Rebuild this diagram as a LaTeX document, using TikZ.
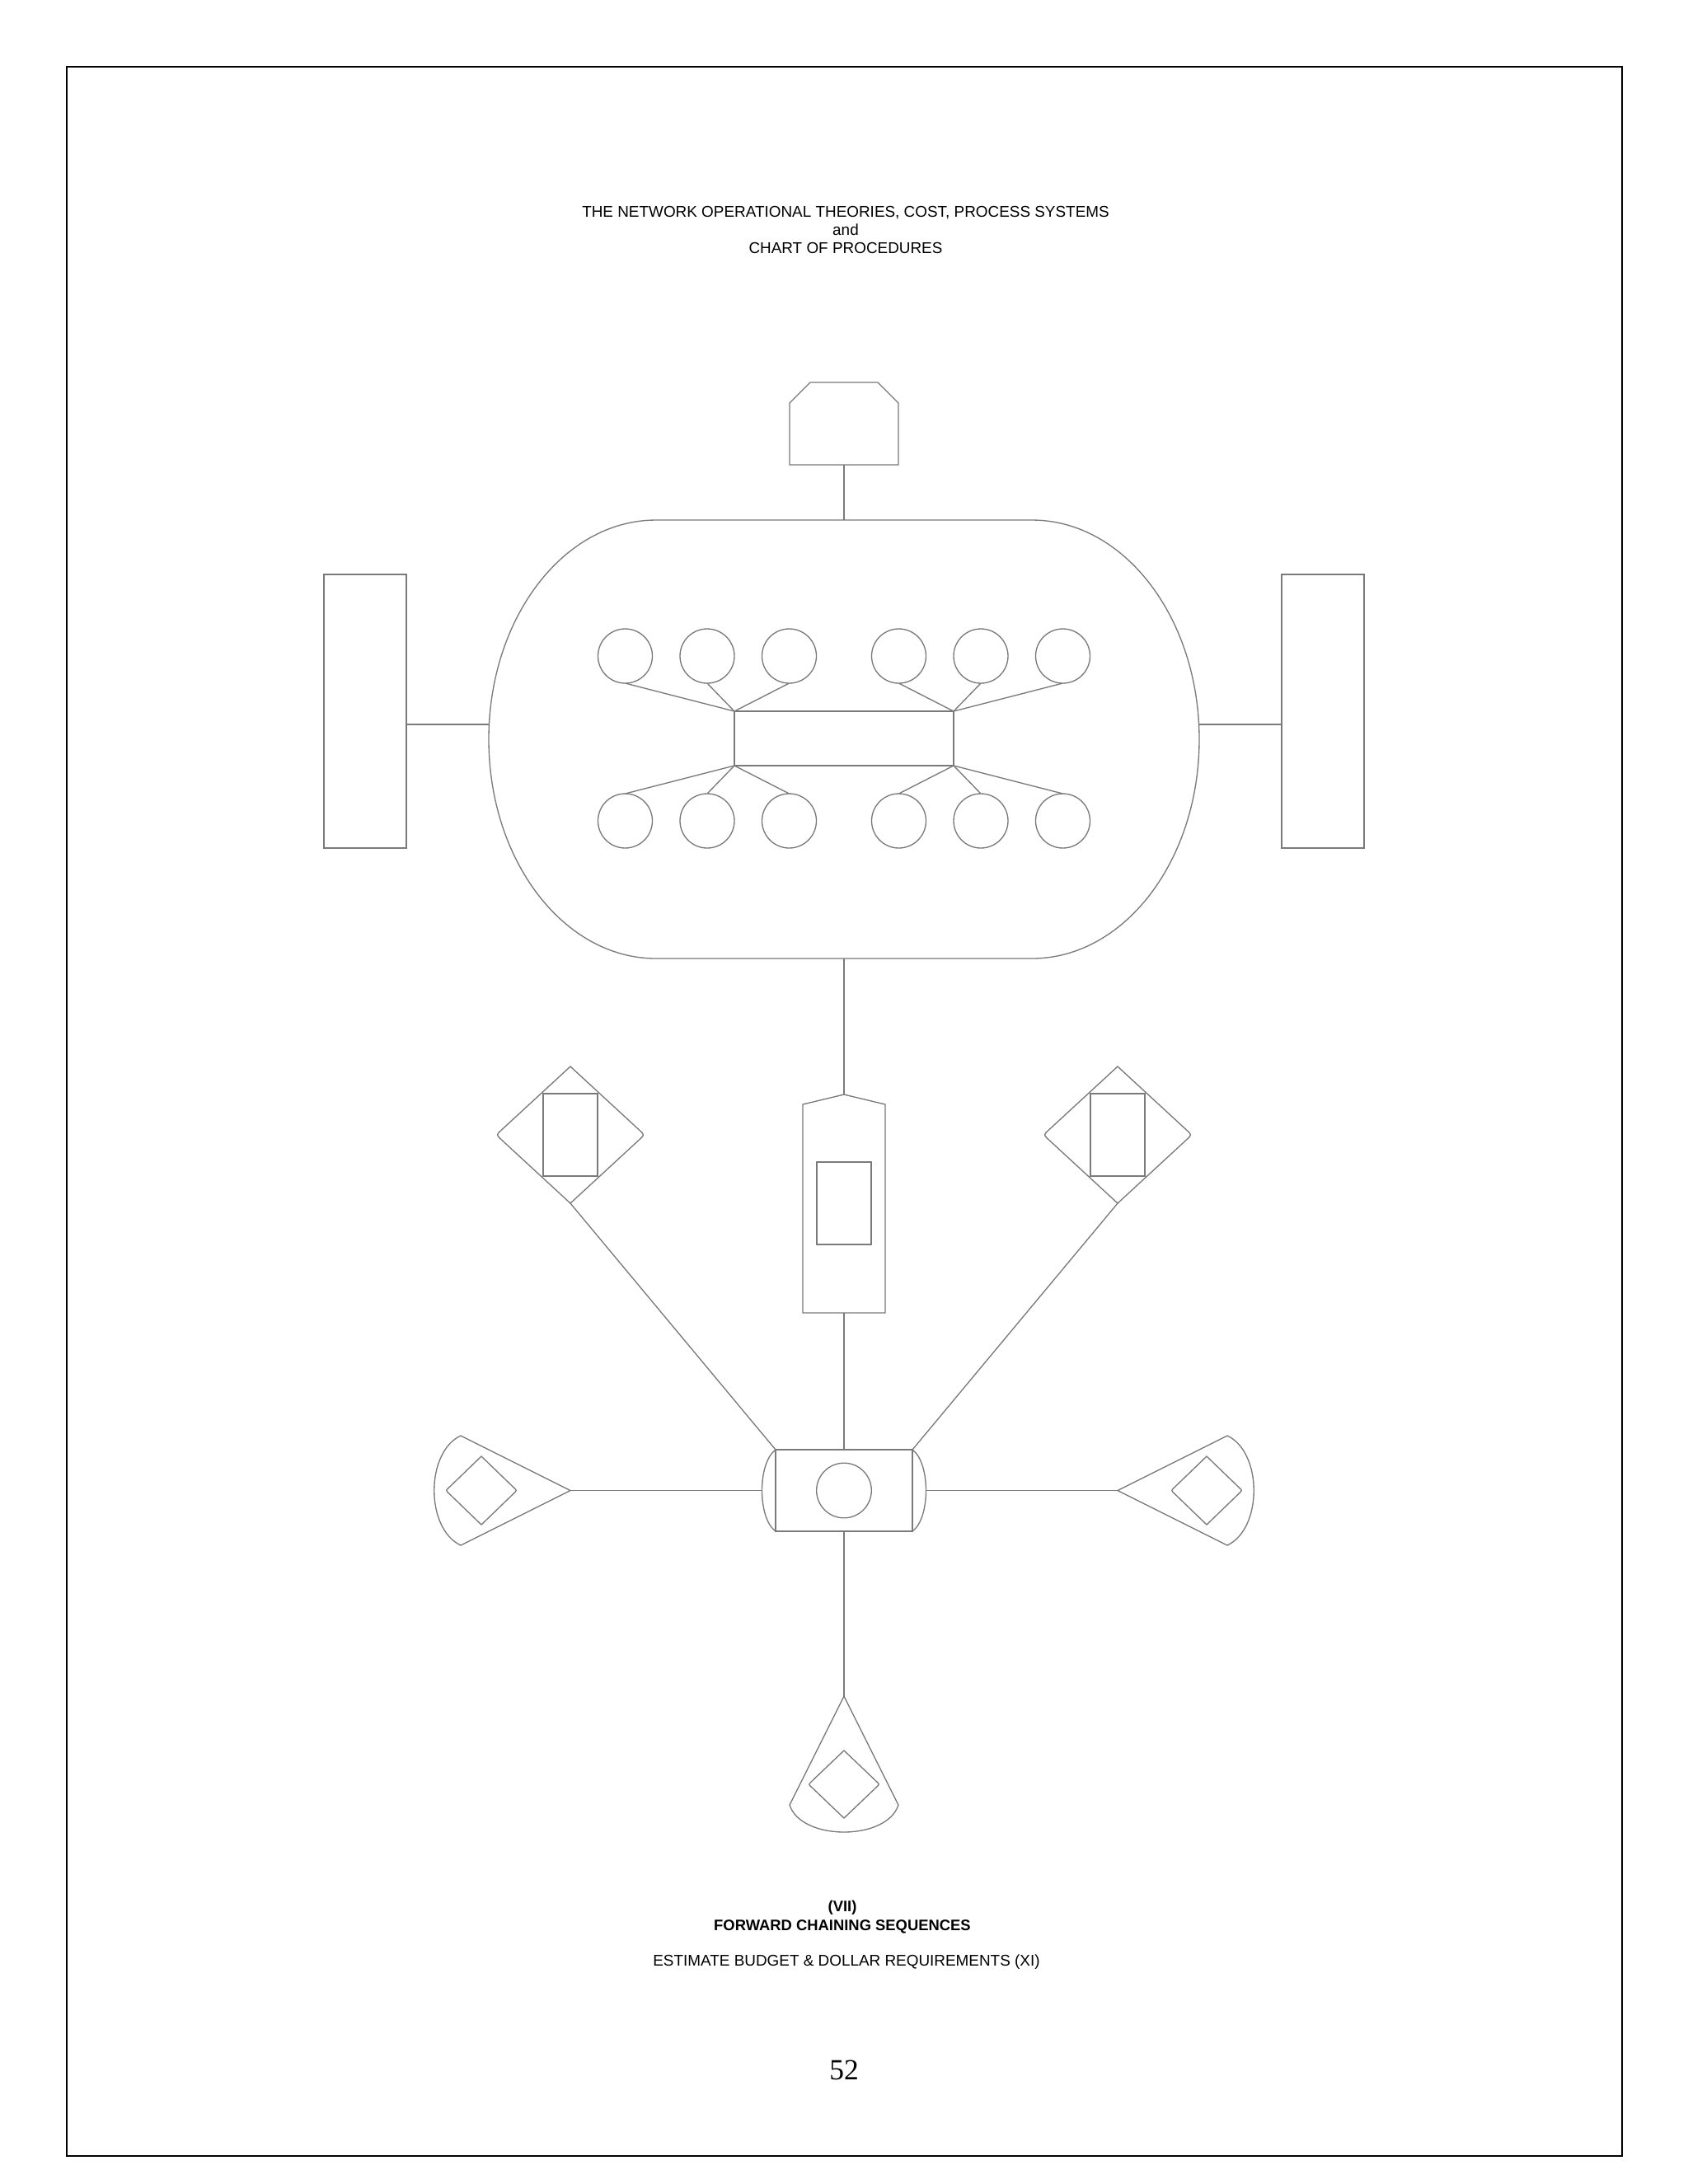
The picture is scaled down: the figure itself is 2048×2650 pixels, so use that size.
\documentclass[tikz,border=0pt]{standalone}
\usepackage{fontspec}
\newfontfamily\arialf{Liberation Sans}
\newfontfamily\serf{Liberation Serif}
\definecolor{linegray}{RGB}{122,122,122}
\newcommand\rdiam[5]{%
  \pgfmathsetmacro\rdA{#1+#3*(1-#5)}%
  \pgfmathsetmacro\rdB{#1-#3*(1-#5)}%
  \pgfmathsetmacro\rdC{#2-#4*#5}%
  \pgfmathsetmacro\rdD{#2+#4*#5}%
  \pgfmathsetmacro\rdE{#1+#3}%
  \pgfmathsetmacro\rdF{#1-#3}%
  \pgfmathsetmacro\rdG{#2-#4}%
  \pgfmathsetmacro\rdH{#2+#4}%
  \draw[ln] (#1,\rdG) -- (\rdA,\rdC) .. controls (\rdE,#2) .. (\rdA,\rdD) -- (#1,\rdH) -- (\rdB,\rdD) .. controls (\rdF,#2) .. (\rdB,\rdC) -- cycle;%
}
\begin{document}
\begin{tikzpicture}[x=0.298828pt,y=-0.298828pt,
  ln/.style={draw=linegray, line width=0.4pt},
  circ/.style={ln, circle, minimum size=19.72pt, inner sep=0pt, outer sep=0pt},
  box/.style={ln, rectangle, inner sep=0pt, outer sep=0pt},
  sidebox/.style={box, minimum width=29.88pt, minimum height=99.21pt},
  innerbox/.style={box, minimum width=19.72pt, minimum height=29.88pt},
  txt/.style={font=\arialf\fontsize{5.65pt}{6.57pt}\selectfont, align=center, inner sep=0pt},
  btxt/.style={font=\arialf\bfseries\fontsize{5.5pt}{7.0pt}\selectfont, align=center, inner sep=0pt}]
\useasboundingbox (0,0) rectangle (2048,2650);
\draw[line width=0.65pt, black] (81,81) rectangle (1968,2616);

% title
\node[txt] (title) at (1026,279) {THE NETWORK OPERATIONAL THEORIES, COST, PROCESS SYSTEMS\\and\\CHART OF PROCEDURES};

% top octagon
\draw[ln] (958,564) -- (958,489) -- (983,464) -- (1065,464) -- (1090,489) -- (1090,564) -- cycle;
\coordinate (octB) at (1024,564);

% capsule
\draw[ln] (796,631) arc[start angle=270, end angle=90, x radius=203, y radius=266] -- (1252,1163) arc[start angle=90, end angle=-90, x radius=203, y radius=266] -- cycle;
\coordinate (capT) at (1024,631);
\coordinate (capB) at (1024,1163);
\coordinate (capL) at (593,879);
\coordinate (capR) at (1455,879);
\draw[ln] (octB) -- (capT);

% side boxes
\node[sidebox] (L) at (443,863) {};
\node[sidebox] (R) at (1605,863) {};
\draw[ln] (capL -| L.east) -- (capL);
\draw[ln] (capR) -- (capR -| R.west);

% circles and centre box
\foreach \i/\x in {1/758.5,2/858,3/957.5,4/1090.5,5/1190,6/1289.5} {
  \node[circ] (t\i) at (\x,796) {};
  \node[circ] (b\i) at (\x,996) {};
}
\node[box, minimum width=79.49pt, minimum height=19.72pt] (mid) at (1024,896) {};
\foreach \i in {1,2,3} {
  \draw[ln] (mid.north west) -- (t\i.south);
  \draw[ln] (mid.south west) -- (b\i.north);
}
\foreach \i in {4,5,6} {
  \draw[ln] (mid.north east) -- (t\i.south);
  \draw[ln] (mid.south east) -- (b\i.north);
}

% tall shape
\draw[ln] (1024,1328) -- (1074,1340) -- (1074,1593) -- (974,1593) -- (974,1340) -- cycle;
\coordinate (tallT) at (1024,1328);
\coordinate (tallB) at (1024,1593);
\node[innerbox] (tallIn) at (1024,1460) {};
\draw[ln] (capB) -- (tallT);

% diamonds with boxes
\rdiam{692}{1377}{90}{83}{0.07}
\rdiam{1356}{1377}{90}{83}{0.07}
\node[innerbox] (dLin) at (692,1377) {};
\node[innerbox] (dRin) at (1356,1377) {};
\coordinate (dLb) at (692,1460);
\coordinate (dRb) at (1356,1460);

% hub
\node[box, minimum width=49.61pt, minimum height=29.58pt] (hub) at (1024,1808.5) {};
\draw[ln] (hub.north west) .. controls (919,1775) and (919,1842) .. (hub.south west);
\draw[ln] (hub.north east) .. controls (1129,1775) and (1129,1842) .. (hub.south east);
\coordinate (hubL) at (924.5,1808.5);
\coordinate (hubR) at (1123.5,1808.5);
\node[circ, minimum size=19.9pt] (hubC) at (1024,1808.5) {};

% cones
\draw[ln] (692,1808.5) -- (559,1742) .. controls (516,1762) and (516,1855) .. (559,1875) -- cycle;
\draw[ln] (1356,1808.5) -- (1489,1742) .. controls (1532,1762) and (1532,1855) .. (1489,1875) -- cycle;
\draw[ln] (1024,2058) -- (1090,2190) .. controls (1076,2234) and (972,2234) .. (958,2190) -- cycle;
\coordinate (coneLT) at (692,1808.5);
\coordinate (coneRT) at (1356,1808.5);
\coordinate (coneBT) at (1024,2058);
\rdiam{584}{1808.5}{43}{41.5}{0.08}
\rdiam{1464}{1808.5}{43}{41.5}{0.08}
\rdiam{1024}{2165}{43}{41}{0.08}

% hub connectors
\draw[ln] (dLb) -- (hub.north west);
\draw[ln] (dRb) -- (hub.north east);
\draw[ln] (tallB) -- (hub.north);
\draw[ln] (hub.south) -- (coneBT);
\draw[ln] (hubL) -- (coneLT);
\draw[ln] (hubR) -- (coneRT);

% bottom texts
\node[btxt] (sec) at (1022,2326) {(VII)\\FORWARD CHAINING SEQUENCES};
\node[txt] (est) at (1027,2380.5) {ESTIMATE BUDGET \& DOLLAR REQUIREMENTS (XI)};
\node[font=\serf\fontsize{10.6pt}{12pt}\selectfont, inner sep=0pt] (pg) at (1024,2512) {52};
\end{tikzpicture}
\end{document}
